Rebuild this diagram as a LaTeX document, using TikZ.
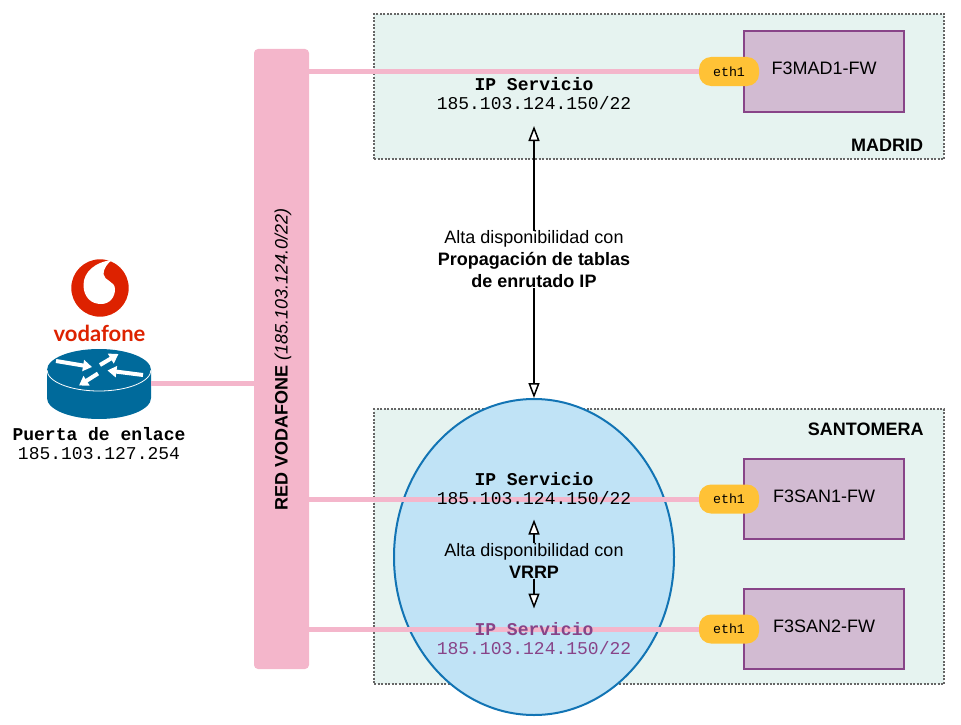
\documentclass[tikz,border=0pt]{standalone}
\usepackage{fontspec}
\setmainfont{Liberation Sans}
\setmonofont{Liberation Mono}
\newfontfamily\vodafont{Lato}
\usetikzlibrary{positioning,arrows.meta,shapes.geometric}
\definecolor{barpink}{HTML}{F4B6CB}
\definecolor{sitegreen}{HTML}{E6F3F0}
\definecolor{fwfill}{HTML}{D2BBD2}
\definecolor{fwline}{HTML}{884488}
\definecolor{ethgold}{HTML}{FFC236}
\definecolor{vrrpblue}{HTML}{C0E3F6}
\definecolor{vrrpline}{HTML}{1274B4}
\definecolor{routerblue}{HTML}{006A9B}
\definecolor{vodared}{HTML}{DD2200}
\newcommand{\sanssize}{\fontsize{18}{22}\selectfont}
\newcommand{\monosize}{\fontsize{18}{18.5}\selectfont\ttfamily}
\begin{document}
\begin{tikzpicture}
[x=1pt, y=-1pt, every node/.style={inner sep=0pt, outer sep=0pt, font=\sanssize, text=black},
site/.style={draw=black!60, fill=sitegreen, line width=1.5pt, dash pattern=on 2pt off 1.5pt, minimum width=570pt, anchor=north west},
fwbox/.style={draw=fwline, fill=fwfill, line width=2pt, minimum width=160pt, minimum height=80pt, text height=12pt, text depth=6pt},
ethtag/.style={fill=ethgold, rounded corners=12pt, minimum width=60pt, minimum height=29pt, font=\fontsize{13.3}{14}\selectfont\ttfamily},
pinkline/.style={draw=barpink, line width=5pt},
iplabel/.style={align=center, font=\monosize},
routertip/.style={white, line width=4pt, -{Triangle[length=9pt, width=11pt]}},
hatip/.style={draw=black, line width=1.5pt, -{Triangle[fill=white, length=15pt, width=11pt, line width=1.5pt]}}]

\useasboundingbox (0,0) rectangle (961,725);

\node [site, minimum height=145pt] (madrid) at (374,14) {};
\node [site, minimum height=275pt] (santomera) at (374,409) {};
\node [draw=vrrpline, fill=vrrpblue, line width=2pt, ellipse, minimum width=280pt, minimum height=316pt] (vrrp) at (534,557) {};

\node [fill=barpink, rounded corners=4pt, minimum width=55pt, minimum height=620pt] (redbar) at (281.5,359) {};
\node [rotate=90] (redlabel) at (283,359.5) {\textbf{RED VODAFONE} \textit{(185.103.124.0/22)}};

\node [fwbox] (fwmad) at (824,71.5) {F3MAD1-FW};
\node [fwbox] (fwsan1) at (824,499) {F3SAN1-FW};
\node [fwbox] (fwsan2) at (824,629) {F3SAN2-FW};
\node [ethtag, left = -15pt of fwmad] (ethmad) {eth1};
\node [ethtag, left = -15pt of fwsan1] (ethsan1) {eth1};
\node [ethtag, left = -15pt of fwsan2] (ethsan2) {eth1};

\draw [pinkline] (redbar.east |- ethmad.west) -- (ethmad.west);
\draw [pinkline] (redbar.east |- ethsan1.west) -- (ethsan1.west);
\draw [pinkline] (redbar.east |- ethsan2.west) -- (ethsan2.west);

\node [anchor=base east] (madlabel) at (923,151.5) {\textbf{MADRID}};
\node [anchor=base east] (santlabel) at (923.5,435) {\textbf{SANTOMERA}};

\node [iplabel] (ipmad) at (534,93.5) {\textbf{IP Servicio}\\185.103.124.150/22};
\node [iplabel] (ipsan1) at (534,488.5) {\textbf{IP Servicio}\\185.103.124.150/22};
\node [iplabel, text=fwline] (ipsan2) at (534,638.5) {\textbf{IP Servicio}\\185.103.124.150/22};

\node [align=center] (haprop) at (534,259.5) {Alta disponibilidad con\\\textbf{Propagación de tablas}\\\textbf{de enrutado IP}};
\node [align=center] (havrrp) at (534,561) {Alta disponibilidad con\\\textbf{VRRP}};
\coordinate (tipmad) at (534,126);
\coordinate (tipsan) at (534,398);
\coordinate (tipup) at (534,519.5);
\coordinate (tipdown) at (534,608.5);
\draw [hatip] (haprop.north) -- (tipmad);
\draw [hatip] (haprop.south) -- (tipsan);
\draw [hatip] (havrrp.north) -- (tipup);
\draw [hatip] (havrrp.south) -- (tipdown);

\fill [vodared] (100,288) circle (28.7);
\fill [white] (112,260) .. controls (95,262) and (83.5,272) .. (83.5,285) .. controls (83.5,297) and (91,304) .. (101,304) .. controls (110,304) and (115,297) .. (115,289) .. controls (115,281) and (104,281) .. (103.5,274) .. controls (103.5,268) and (108,263) .. (112,260) -- cycle;
\node [font=\fontsize{22}{22}\selectfont\vodafont\bfseries, text=vodared] (vodatext) at (99.5,333) {vodafone};

\fill [routerblue] (47,370) -- (47,398) arc [start angle=180, end angle=0, x radius=52, y radius=21] -- (151,370) arc [start angle=0, end angle=-180, x radius=52, y radius=21] -- cycle;
\draw [white, line width=0.8pt] (47,370) arc [start angle=180, end angle=0, x radius=52, y radius=21];
\draw [routertip] (56,361) -- (92,367);
\draw [routertip] (100,365) -- (118.5,354);
\draw [routertip] (143,375) -- (107.5,370.5);
\draw [routertip] (98,373.5) -- (79,385.5);
\node [minimum width=104pt, minimum height=69pt] (router) at (99,383.5) {};
\draw [pinkline] (router.east) -- (redbar.west |- router.east);

\node [iplabel] (gwlabel) at (99,443.5) {\textbf{Puerta de enlace}\\185.103.127.254};
\end{tikzpicture}
\end{document}
